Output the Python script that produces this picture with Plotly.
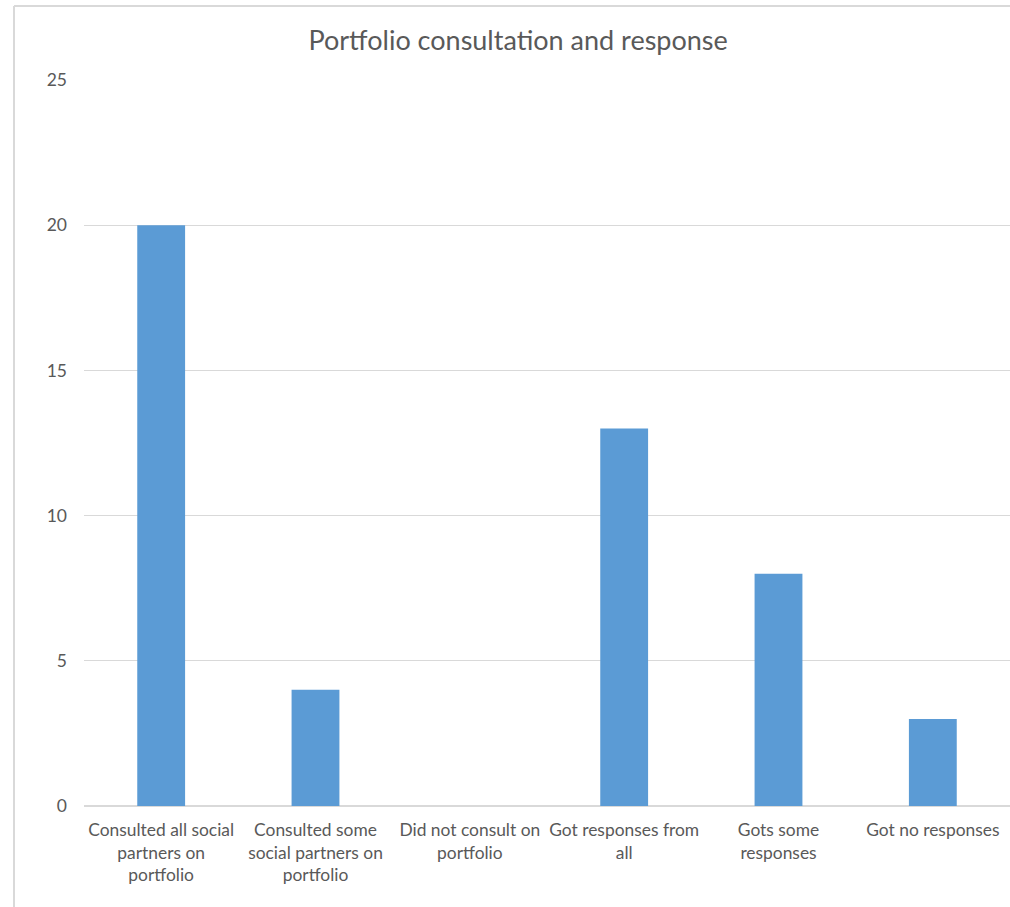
import plotly.graph_objects as go

categories = [
    "Consulted all social<br>partners on<br>portfolio",
    "Consulted some<br>social partners on<br>portfolio",
    "Did not consult on<br>portfolio",
    "Got responses from<br>all",
    "Gots some<br>responses",
    "Got no responses",
]
counts = [20, 4, 0, 13, 8, 3]
y_ticks = [0, 5, 10, 15, 20, 25]

TEXT = "#595959"
GRID = "#d9d9d9"
FONT = "Lato, 'Open Sans', sans-serif"

fig = go.Figure(
    go.Bar(
        x=categories,
        y=counts,
        marker=dict(color="#5b9bd5", line=dict(width=0)),
        width=0.31,
    )
)

fig.update_layout(
    width=1010,
    height=907,
    margin=dict(l=84, r=0, t=80, b=101),
    paper_bgcolor="white",
    plot_bgcolor="white",
    showlegend=False,
    font=dict(family=FONT, color=TEXT, size=17),
    title=dict(
        text="Portfolio consultation and response",
        x=0.513,
        xanchor="center",
        y=0.955,
        yanchor="middle",
        font=dict(size=27, color=TEXT, family=FONT),
    ),
    shapes=[
        dict(type="line", xref="paper", yref="paper", x0=-70 / 926, x1=1.01,
             y0=1 + 74 / 726, y1=1 + 74 / 726, line=dict(color=GRID, width=2)),
        dict(type="line", xref="paper", yref="paper", x0=-70 / 926, x1=-70 / 926,
             y0=-0.2, y1=1 + 74 / 726, line=dict(color=GRID, width=2)),
    ],
)

fig.update_xaxes(
    showgrid=False,
    showline=True,
    linecolor=GRID,
    linewidth=1,
    ticks="",
    ticklabelstandoff=8,
    tickfont=dict(size=17.4, color=TEXT),
)
fig.update_yaxes(
    range=[0, 25],
    tickvals=y_ticks,
    showgrid=True,
    gridcolor=GRID,
    gridwidth=1,
    zeroline=True,
    zerolinecolor=GRID,
    showline=False,
    ticks="",
    ticklabelstandoff=16,
    tickfont=dict(size=17.5, color=TEXT),
)

fig.write_html("out.html")
